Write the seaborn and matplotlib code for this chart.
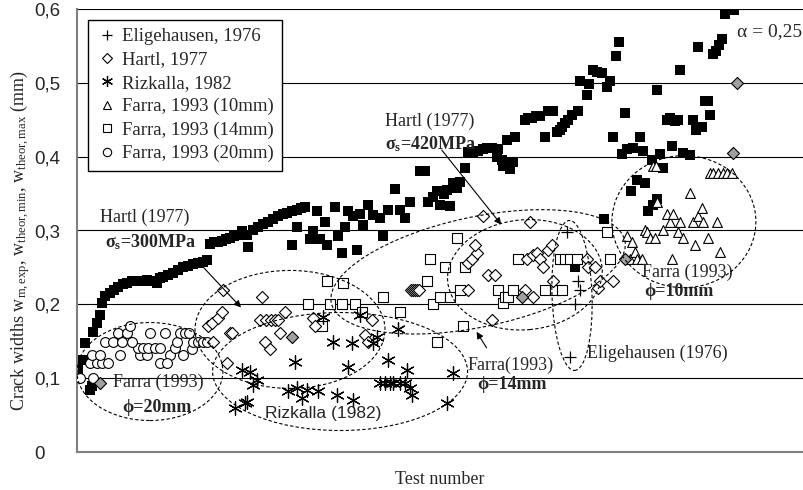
import matplotlib
matplotlib.use("Agg")
import matplotlib.pyplot as plt
import matplotlib.transforms as mtransforms
from matplotlib.patches import Ellipse
from matplotlib.lines import Line2D
from matplotlib.ticker import FuncFormatter
import seaborn as sns

# ---- data (test number, crack width in mm) ----
theor_t = [0.3, 2, 2.7, 4.3, 5, 5.3, 6.7, 7.7, 8.3, 9.3, 11, 12.3, 13.7, 15.3, 16.7, 18.3, 20, 21.7,
           23.3, 25, 26.7, 27.7, 28.7, 30.3, 32, 33.7, 35.3, 37, 38.7, 40.3, 42, 43.3,
           44.3, 45.7, 47, 48.3, 49.7, 51, 52.3, 53.7, 55, 56.7, 57, 58.7, 60.3, 62, 63.7, 65.3,
           67, 68.7, 70, 71.7, 73.3, 74.7, 76, 71.7, 73.3, 77.7, 78.7, 80, 81, 82.7, 83.3, 86,
           87, 88.3, 89.3, 90.3, 92, 93.3, 94.3, 95.3, 97, 98.7, 101, 102, 103.7, 106, 107.7,
           109.3, 111, 114.3, 116, 117, 118.7, 120, 121, 122.3, 123.3, 124.3, 125.3, 126.7,
           127.7, 129.3, 130.3, 132, 133.7, 135.3, 136.7, 138.3, 140, 140.3, 141.7, 142, 143.3,
           143.7, 144.3, 145.3, 146, 149.3, 150.3, 151.7, 153, 154.3, 156, 157, 158.7, 160,
           161, 161.7, 162.7, 163.7, 165, 166, 167, 167.7, 170, 170.7, 172, 173.3, 175, 175.7,
           176.7, 177.7, 178.7, 179.7, 180.7, 181.7, 182.7, 183.3, 184.7, 185.3, 186.7, 187.7,
           188.7, 189.3, 190.3, 191.7, 192, 193.3, 193.3, 194.3, 195.3, 196.7, 197.7, 198.3,
           199.3, 200.3, 201, 202, 204.3, 205.3, 206.3, 207, 208.3, 209.3, 210.3, 211, 212,
           213, 214, 215, 216, 219]
theor_w = [0.111, 0.125, 0.148, 0.084, 0.09, 0.163, 0.175, 0.186, 0.202, 0.211, 0.216, 0.22, 0.224,
           0.227, 0.229, 0.231, 0.231, 0.232, 0.233, 0.231, 0.229, 0.235, 0.237, 0.24, 0.243,
           0.247, 0.251, 0.252, 0.254, 0.256, 0.258, 0.26,
           0.282, 0.284, 0.285, 0.286, 0.288, 0.29, 0.292, 0.294, 0.299, 0.294, 0.278, 0.301,
           0.305, 0.309, 0.312, 0.316, 0.319, 0.322, 0.324, 0.327, 0.328, 0.331, 0.332, 0.281,
           0.305, 0.288, 0.299, 0.326, 0.288, 0.312, 0.281, 0.332, 0.292, 0.27, 0.305, 0.326,
           0.319, 0.274, 0.322, 0.308, 0.335, 0.321, 0.317, 0.292, 0.328, 0.356, 0.328, 0.317,
           0.338, 0.38, 0.38, 0.339, 0.346, 0.353, 0.335, 0.349, 0.355, 0.333, 0.365, 0.358,
           0.366, 0.385, 0.406, 0.406, 0.408, 0.41, 0.412, 0.412, 0.4, 0.41, 0.396, 0.387, 0.423,
           0.393, 0.383, 0.393, 0.426, 0.45, 0.452, 0.453, 0.455, 0.455, 0.426, 0.462, 0.462,
           0.434, 0.436, 0.44, 0.445, 0.45, 0.457, 0.25, 0.462, 0.502, 0.484, 0.498, 0.518,
           0.514, 0.513, 0.315, 0.494, 0.502, 0.426, 0.536, 0.555, 0.403, 0.459, 0.41, 0.353,
           0.412, 0.369, 0.427, 0.407, 0.365, 0.326, 0.396, 0.335, 0.49, 0.342, 0.403, 0.385,
           0.45, 0.453, 0.414, 0.448, 0.45, 0.518, 0.405, 0.402, 0.449, 0.436, 0.549, 0.44,
           0.476, 0.476, 0.456, 0.539, 0.543, 0.551, 0.559, 0.593, 0.598]

elig_t = [163.3, 167, 167.7, 166, 164.3]
elig_w = [0.298, 0.231, 0.22, 0.2, 0.129]

hartl_t = [43.7, 45, 47, 48.3, 45.3, 48.7, 50, 51, 51.7, 61.7, 61, 63, 64.7, 66, 67, 69.3, 67.7,
           62.7, 64.3, 78.7, 79.3, 96, 97, 98.3, 111.3, 112, 112.7, 113.3, 114, 130.3, 130.3,
           131.7, 133.3, 132.7, 135.3, 137, 139.3, 138.3, 149.3, 152, 150, 151, 152, 153.3,
           154.3, 155.3, 157, 158.3, 158.7, 170, 170.3, 172.7, 173.7, 174.3, 178.7]
hartl_w = [0.17, 0.175, 0.182, 0.189, 0.149, 0.22, 0.121, 0.161, 0.161, 0.21, 0.179, 0.179, 0.179,
           0.179, 0.179, 0.189, 0.161, 0.149, 0.14, 0.182, 0.17, 0.159, 0.149, 0.179, 0.22, 0.22,
           0.22, 0.22, 0.22, 0.22, 0.256, 0.261, 0.27, 0.281, 0.319, 0.24, 0.24, 0.179, 0.22,
           0.21, 0.261, 0.311, 0.267, 0.27, 0.261, 0.25, 0.274, 0.281, 0.231, 0.261, 0.251,
           0.25, 0.222, 0.231, 0.231]
hartl_grey_t = [7.7, 71.7, 148.3, 182.7, 218.7, 220]
hartl_grey_w = [0.094, 0.156, 0.21, 0.261, 0.405, 0.5]

rizk_t = [52.7, 56, 56.7, 55, 57.7, 60, 58.7, 72.7, 70.3, 73.3, 75, 76.7, 80.3, 82, 85.3, 86.7,
          90.3, 91.7, 92, 94.3, 98.7, 100, 101, 102.7, 103.7, 104.3, 105.3, 107, 107.7, 109.3,
          110, 111, 111.7, 123.3, 125.3]
rizk_w = [0.06, 0.066, 0.068, 0.111, 0.109, 0.098, 0.091, 0.122, 0.082, 0.087, 0.073, 0.084,
          0.082, 0.183, 0.149, 0.077, 0.115, 0.148, 0.07, 0.186, 0.148, 0.156, 0.094, 0.094,
          0.125, 0.094, 0.094, 0.166, 0.094, 0.094, 0.111, 0.087, 0.077, 0.066, 0.107]

f10_t = [183.3, 184.3, 185, 186, 186.7, 188.3, 189.3, 190, 191, 192, 192.7, 193, 193.3, 195.3,
         196.7, 197.7, 198.3, 198.7, 200.3, 201, 202, 204.3, 205.3, 206, 207, 208.3, 208.7,
         210.3, 211, 212, 213.3, 213.7, 214.3, 215.3, 216.7, 218.3]
f10_w = [0.292, 0.261, 0.284, 0.271, 0.261, 0.261, 0.301, 0.298, 0.29, 0.387, 0.29, 0.387, 0.338,
         0.301, 0.322, 0.311, 0.261, 0.322, 0.298, 0.311, 0.29, 0.351, 0.311, 0.281, 0.319,
         0.331, 0.311, 0.29, 0.378, 0.378, 0.311, 0.378, 0.271, 0.378, 0.378, 0.378]

f14_t = [77, 81.7, 83.3, 84.3, 88.3, 88.7, 92.7, 95, 102, 107.7, 116.7, 117.7, 118.7, 120, 121,
         122.7, 124.3, 126.7, 127.7, 128.7, 129.3, 140.3, 142, 142.7, 143.7, 145.3, 147, 156,
         159.3, 161.7, 161, 162.7, 164.3, 166.7, 176.7, 177.7]
f14_w = [0.2, 0.17, 0.231, 0.2, 0.2, 0.229, 0.2, 0.19, 0.21, 0.19, 0.231, 0.261, 0.2, 0.149,
         0.21, 0.25, 0.21, 0.29, 0.22, 0.17, 0.25, 0.22, 0.202, 0.21, 0.21, 0.22, 0.261, 0.22,
         0.22, 0.22, 0.261, 0.261, 0.261, 0.261, 0.298, 0.261]

f20_t = [1, 5.3, 4.3, 6.7, 8.3, 10.3, 5, 7.7, 14.3, 21, 23.3, 31, 35.3, 27.7, 30, 20.3, 22,
         23.7, 26, 27.7, 32.7, 38.3, 9.3, 12, 15, 18.3, 33.3, 38.7, 40.3, 42, 43.3, 13.7, 16.7,
         17.7, 24.3, 29.3, 34.3, 36, 37.3]
f20_w = [0.1, 0.1, 0.121, 0.121, 0.121, 0.121, 0.132, 0.132, 0.132, 0.132, 0.132, 0.132, 0.132,
         0.121, 0.121, 0.141, 0.141, 0.141, 0.141, 0.141, 0.141, 0.14, 0.149, 0.149, 0.149,
         0.149, 0.149, 0.149, 0.149, 0.149, 0.149, 0.161, 0.161, 0.17, 0.161, 0.161, 0.161,
         0.161, 0.161]

legend_labels = ["Eligehausen, 1976", "Hartl, 1977", "Rizkalla, 1982",
                 "Farra, 1993 (10mm)", "Farra, 1993 (14mm)", "Farra, 1993 (20mm)"]
y_ticks = [0, 0.1, 0.2, 0.3, 0.4, 0.5, 0.6]

SERIF = ["Liberation Serif", "DejaVu Serif"]
SANS = ["Liberation Sans", "DejaVu Sans"]

sns.set_style("white")
plt.rcParams["font.family"] = SERIF
plt.rcParams["mathtext.fontset"] = "custom"
plt.rcParams["mathtext.rm"] = "Liberation Serif"
plt.rcParams["mathtext.it"] = "Liberation Serif:italic"
plt.rcParams["mathtext.bf"] = "Liberation Serif:bold"

fig = plt.figure(figsize=(8.04, 4.9), dpi=100)
ax = fig.add_axes([77 / 804, 38 / 490, 726 / 804, 443 / 490])

ASTER = (6, 2, 0)
open_kw = dict(facecolor="white", edgecolor="black", linewidth=0.8, zorder=3)

sns.scatterplot(x=theor_t, y=theor_w, marker="s", color="black", s=42, linewidth=0, ax=ax, zorder=2)
sns.scatterplot(x=f20_t, y=f20_w, marker="o", s=50, ax=ax, **open_kw)
sns.scatterplot(x=f14_t, y=f14_w, marker="s", s=50, ax=ax, **open_kw)
sns.scatterplot(x=f10_t, y=f10_w, marker="^", s=50, ax=ax, **open_kw)
sns.scatterplot(x=hartl_t, y=hartl_w, marker="D", s=38, ax=ax, **open_kw)
sns.scatterplot(x=hartl_grey_t, y=hartl_grey_w, marker="D", s=38, ax=ax,
                facecolor="#a0a0a0", edgecolor="black", linewidth=0.8, zorder=3)
sns.scatterplot(x=rizk_t, y=rizk_w, marker=ASTER, s=95, color="black", linewidth=0.9, ax=ax, zorder=3)
sns.scatterplot(x=elig_t, y=elig_w, marker="+", s=75, color="black", linewidth=0.9, ax=ax, zorder=3)

# dashed grouping ellipses: centre (test no., mm), width/height in pixels, tilt in degrees
ellipses = [((24.3, 0.109), 146, 98, 0), ((71, 0.166), 190, 118, 0), ((87.7, 0.109), 255, 118, 0),
            ((133.7, 0.244), 300, 110, 12), ((149.3, 0.24), 155, 110, 5),
            ((165, 0.212), 40, 150, 2), ((202.3, 0.312), 144, 132, 0)]
for (cx, cy), ew, eh, ang in ellipses:
    tr = mtransforms.ScaledTranslation(cx, cy, ax.transData)
    ax.add_patch(Ellipse((0, 0), ew, eh, angle=ang, transform=tr, fill=False,
                         edgecolor="black", linewidth=0.8, linestyle=(0, (3, 2)), zorder=4))

# annotations
FS = 13
ax.text(7.7, 0.318, "Hartl (1977)", fontsize=FS, va="center")
ax.text(9.3, 0.284, "σ$_\\mathbf{s}$=300MPa", fontsize=FS, fontweight="bold", va="center")
ax.annotate("", xy=(55.3, 0.193), xytext=(38.7, 0.265),
            arrowprops=dict(arrowstyle="-|>", color="black", lw=0.8, mutation_scale=10))
ax.text(102.7, 0.448, "Hartl (1977)", fontsize=FS, va="center")
ax.text(102.7, 0.417, "σ$_\\mathbf{s}$=420MPa", fontsize=FS, fontweight="bold", va="center")
ax.annotate("", xy=(142, 0.305), xytext=(121, 0.412),
            arrowprops=dict(arrowstyle="-|>", color="black", lw=0.8, mutation_scale=10))
ax.text(130.3, 0.118, "Farra(1993)", fontsize=FS, va="center")
ax.text(133.3, 0.092, "ϕ=14mm", fontsize=FS, fontweight="bold", va="center")
ax.annotate("", xy=(132.7, 0.166), xytext=(137, 0.138),
            arrowprops=dict(arrowstyle="-|>", color="black", lw=0.8, mutation_scale=10))
ax.text(170, 0.133, "Eligehausen (1976)", fontsize=FS, va="center")
ax.text(188.3, 0.243, "Farra (1993)", fontsize=FS, va="center")
ax.text(189, 0.217, "ϕ=10mm", fontsize=FS, fontweight="bold", va="center")
ax.text(12, 0.095, "Farra (1993)", fontsize=FS, va="center")
ax.text(15, 0.06, "ϕ=20mm", fontsize=FS, fontweight="bold", va="center")
ax.text(62.7, 0.052, "Rizkalla (1982)", fontsize=12.5, va="center", family=SANS)
ax.text(220, 0.57, "α = 0,25", fontsize=14, va="center")

# axes
ax.set_xlim(0, 242)
ax.set_ylim(0, 0.6)
ax.set_xticks([])
ax.set_yticks(y_ticks)
ax.yaxis.set_major_formatter(FuncFormatter(lambda v, p: "0" if v == 0 else f"{v:.1f}".replace(".", ",")))
ax.tick_params(axis="y", length=0, pad=31)
for lab in ax.get_yticklabels():
    lab.set_horizontalalignment("left")
    lab.set_family(SANS)
    lab.set_fontsize(13.5)
ax.yaxis.grid(True, color="black", linewidth=0.8)
ax.set_axisbelow(True)
for side in ["top", "right"]:
    ax.spines[side].set_visible(False)
for side in ["left", "bottom"]:
    ax.spines[side].set_color("#808080")
    ax.spines[side].set_linewidth(1.5)
ax.set_xlabel("Test number", fontsize=13, labelpad=14)
ax.set_ylabel("Crack widths w$_{\\mathrm{m,exp}}$, w$_{\\mathrm{theor,min}}$, w$_{\\mathrm{theor,max}}$ (mm)",
              fontsize=13)
ax.yaxis.set_label_coords(-0.062, 0.476)

handles = [Line2D([], [], ls="", marker="+", color="black", ms=7, mew=0.9),
           Line2D([], [], ls="", marker="D", mfc="white", mec="black", ms=5, mew=0.8),
           Line2D([], [], ls="", marker=ASTER, color="black", ms=8, mew=0.9),
           Line2D([], [], ls="", marker="^", mfc="white", mec="black", ms=6, mew=0.8),
           Line2D([], [], ls="", marker="s", mfc="white", mec="black", ms=6, mew=0.8),
           Line2D([], [], ls="", marker="o", mfc="white", mec="black", ms=6, mew=0.8)]
leg = ax.legend(handles, legend_labels, loc="upper left", bbox_to_anchor=(0.015, 0.976),
                fontsize=13.5, frameon=True, fancybox=False, framealpha=1, edgecolor="black",
                handlelength=1.1, handletextpad=0.25, labelspacing=0.33, borderpad=0.45,
                borderaxespad=0)
leg.get_frame().set_linewidth(1.0)
leg.set_zorder(6)

fig.savefig("out.png", dpi=100)
